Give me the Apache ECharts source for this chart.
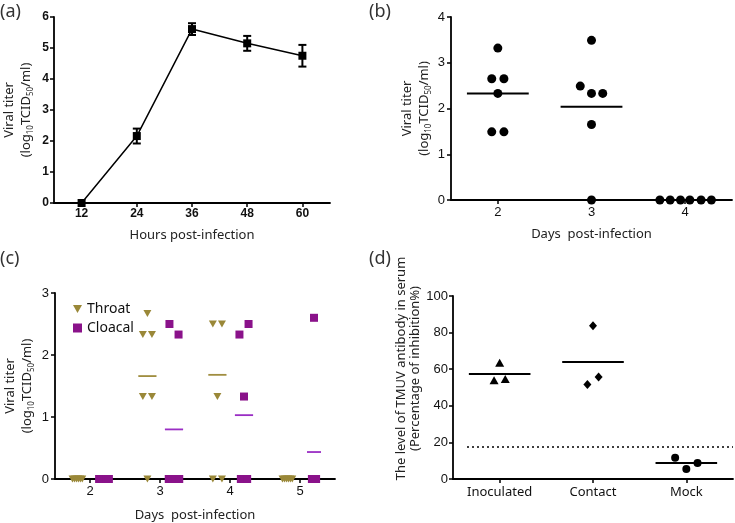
<!DOCTYPE html>
<html>
<head>
<meta charset="utf-8">
<script src="https://cdn.jsdelivr.net/npm/echarts@6/dist/echarts.min.js"></script>
<style>
  html, body { margin: 0; padding: 0; background: #fff; }
  #main { width: 735px; height: 523px; }
</style>
</head>
<body>
<div id="main"></div>
<script>
// (a) growth curve
const hoursA = [12, 24, 36, 48, 60];
const titerA = [0, 2.16, 5.61, 5.15, 4.75];
const errA = [0, 0.24, 0.19, 0.24, 0.35];

// (b) titers per bird
const daysB = [2, 3, 4];
const titersB = [
  [3.32, 2.65, 2.65, 2.33, 1.49, 1.49],
  [3.49, 2.49, 2.33, 2.33, 1.65, 0],
  [0, 0, 0, 0, 0, 0]
];
const jitterB = [
  [0, -0.065, 0.065, 0, -0.065, 0.065],
  [0, -0.12, 0, 0.12, 0, 0],
  [-0.27, -0.16, -0.05, 0.05, 0.17, 0.28]
];
const medianB = [2.33, 2.04];

// (c) throat / cloacal shedding
const daysC = [2, 3, 4, 5];
const throatC = [
  [0, 0, 0, 0, 0, 0],
  [2.67, 2.33, 2.33, 1.33, 1.33, 0],
  [2.5, 2.5, 1.33, 0, 0],
  [0, 0, 0, 0, 0, 0]
];
const cloacalC = [
  [0, 0, 0, 0, 0, 0],
  [2.5, 2.33, 0, 0, 0, 0],
  [2.33, 2.5, 1.33, 0, 0, 0],
  [2.6, 0, 0, 0, 0, 0]
];
const throatJitter = [
  [-0.07, -0.042, -0.014, 0.014, 0.042, 0.07],
  [0, -0.065, 0.065, -0.065, 0.065, 0],
  [-0.065, 0.065, 0, -0.065, 0.065],
  [-0.07, -0.042, -0.014, 0.014, 0.042, 0.07]
];
const cloacalJitter = [
  [-0.07, -0.042, -0.014, 0.014, 0.042, 0.07],
  [-0.065, 0.065, -0.075, -0.025, 0.025, 0.075],
  [-0.065, 0.065, 0, -0.045, 0, 0.045],
  [0, -0.03, -0.01, 0.01, 0.03, 0]
];
const throatMeanC = [0, 1.66, 1.68, 0];
const cloacalMeanC = [0, 0.80, 1.03, 0.435];
const throatShift = -0.18;
const cloacalShift = 0.2;

// (d) antibody
const groupsD = ['Inoculated', 'Contact', 'Mock'];
const inoculatedD = [63.5, 54, 54.6];
const contactD = [83.8, 51.7, 55.7];
const mockD = [11.6, 5.4, 8.7];
const jitterD = [[0, -0.06, 0.06], [0, -0.06, 0.06], [-0.12, 0, 0.12]];
const meanD = [57.4, 63.9, 8.7];
const cutoffD = 17.6;

const LABEL_FONT = 'Liberation Sans, Arial, sans-serif';
const NAME_FONT = 'Noto Sans, sans-serif';
const OLIVE = '#9a8838';
const PURPLE = '#8a128a';

const chart = echarts.init(document.getElementById('main'));

function axisBase(grid, extra) {
  return Object.assign({
    gridIndex: grid,
    type: 'value',
    splitLine: { show: false },
    axisLine: { show: true, onZero: false, lineStyle: { color: '#000', width: 1.8 } },
    axisTick: { show: true, length: 4, lineStyle: { color: '#000', width: 1.5 } },
    axisLabel: { color: '#111', fontSize: 12, fontFamily: LABEL_FONT, margin: 5 },
    nameTextStyle: { color: '#222', fontSize: 13, fontFamily: NAME_FONT }
  }, extra);
}

const titerName = 'Viral titer\n(log{s|10}TCID{s|50}/ml)';
const titerNameStyle = {
  color: '#222', fontSize: 13, fontFamily: NAME_FONT, lineHeight: 17,
  rich: { s: { fontSize: 8, fontFamily: NAME_FONT, color: '#222', verticalAlign: 'bottom', lineHeight: 17 } }
};

function scatterPoints(days, vals, jit, shift) {
  const out = [];
  days.forEach((d, i) => {
    vals[i].forEach((v, j) => out.push([d + shift + jit[i][j], v]));
  });
  return out;
}

function meanLine(color, width) {
  return function (params, api) {
    const x = api.value(0), v = api.value(1), hw = api.value(2);
    const a = api.coord([x - hw, v]);
    const b = api.coord([x + hw, v]);
    return { type: 'line', shape: { x1: a[0], y1: a[1], x2: b[0], y2: b[1] }, style: { stroke: color, lineWidth: width } };
  };
}

const downTri = 'path://M0,0 L10,0 L5,9 Z';

const option = {
  animation: false,
  backgroundColor: '#fff',
  graphic: [
    { type: 'text', left: 0, top: 3, style: { text: '(a)', fontSize: 18, fontFamily: NAME_FONT, fill: '#333' } },
    { type: 'text', left: 369, top: 3, style: { text: '(b)', fontSize: 18, fontFamily: NAME_FONT, fill: '#333' } },
    { type: 'text', left: 0, top: 250, style: { text: '(c)', fontSize: 18, fontFamily: NAME_FONT, fill: '#333' } },
    { type: 'text', left: 369, top: 250, style: { text: '(d)', fontSize: 18, fontFamily: NAME_FONT, fill: '#333' } }
  ],
  legend: {
    orient: 'vertical',
    left: 68, top: 297,
    itemWidth: 9, itemHeight: 9, itemGap: 5,
    textStyle: { fontSize: 14, fontFamily: NAME_FONT, color: '#111' },
    data: [
      { name: 'Throat', icon: downTri },
      { name: 'Cloacal', icon: 'rect' }
    ]
  },
  grid: [
    { left: 53, top: 17, width: 277, height: 186 },
    { left: 451, top: 17, width: 281, height: 183 },
    { left: 55, top: 293, width: 280, height: 188 },
    { left: 453, top: 296, width: 280, height: 183 }
  ],
  xAxis: [
    axisBase(0, {
      min: 6, max: 66,
      name: 'Hours post-infection', nameLocation: 'middle', nameGap: 26,
      axisTick: { show: true, length: 4, customValues: hoursA, lineStyle: { color: '#000', width: 1.5 } },
      axisLabel: { customValues: hoursA, color: '#111', fontSize: 12, fontWeight: 'bold', fontFamily: LABEL_FONT, margin: 5 }
    }),
    axisBase(1, {
      min: 1.5, max: 4.5,
      name: 'Days  post-infection', nameLocation: 'middle', nameGap: 28,
      axisTick: { show: true, length: 4, customValues: daysB, lineStyle: { color: '#000', width: 1.5 } },
      axisLabel: { customValues: daysB, color: '#111', fontSize: 13, fontFamily: LABEL_FONT, margin: 6 }
    }),
    axisBase(2, {
      min: 1.5, max: 5.5,
      name: 'Days  post-infection', nameLocation: 'middle', nameGap: 30,
      axisTick: { show: true, length: 4, customValues: daysC, lineStyle: { color: '#000', width: 1.5 } },
      axisLabel: { customValues: daysC, color: '#111', fontSize: 13, fontFamily: LABEL_FONT, margin: 6 }
    }),
    axisBase(3, {
      min: 0.5, max: 3.5,
      axisTick: { show: true, length: 4, customValues: [1, 2, 3], lineStyle: { color: '#000', width: 1.5 } },
      axisLabel: {
        customValues: [1, 2, 3], color: '#111', fontSize: 13, fontFamily: NAME_FONT, margin: 7,
        formatter: v => groupsD[Math.round(v) - 1]
      }
    })
  ],
  yAxis: [
    axisBase(0, {
      min: 0, max: 6, interval: 1,
      name: titerName, nameLocation: 'middle', nameGap: 19, nameTextStyle: titerNameStyle,
      axisLabel: { color: '#111', fontSize: 12, fontWeight: 'bold', fontFamily: LABEL_FONT, margin: 5 }
    }),
    axisBase(1, {
      min: 0, max: 4, interval: 1,
      name: titerName, nameLocation: 'middle', nameGap: 18, nameTextStyle: titerNameStyle,
      axisLabel: { color: '#111', fontSize: 13, fontFamily: LABEL_FONT, margin: 6 }
    }),
    axisBase(2, {
      min: 0, max: 3, interval: 1,
      name: titerName, nameLocation: 'middle', nameGap: 19, nameTextStyle: titerNameStyle,
      axisLabel: { color: '#111', fontSize: 13, fontFamily: LABEL_FONT, margin: 6 }
    }),
    axisBase(3, {
      min: 0, max: 100, interval: 20,
      name: 'The level of TMUV antibody in serum\n(Percentage of inhibition%)',
      nameLocation: 'middle', nameGap: 30,
      nameTextStyle: { color: '#222', fontSize: 13, fontFamily: NAME_FONT, lineHeight: 14, padding: [0, 0, 0, 38] },
      axisLabel: { color: '#111', fontSize: 13, fontFamily: LABEL_FONT, margin: 5 }
    })
  ],
  series: [
    {
      type: 'line', xAxisIndex: 0, yAxisIndex: 0,
      data: hoursA.map((h, i) => [h, titerA[i]]),
      symbol: 'rect', symbolSize: 8, showSymbol: true,
      lineStyle: { color: '#000', width: 1.5 },
      itemStyle: { color: '#000', opacity: 1 }, clip: false, z: 3
    },
    {
      type: 'custom', xAxisIndex: 0, yAxisIndex: 0,
      data: hoursA.map((h, i) => [h, titerA[i], errA[i]]),
      renderItem: function (params, api) {
        const x = api.value(0), y = api.value(1), e = api.value(2);
        if (!e) return null;
        const hi = api.coord([x, y + e]);
        const lo = api.coord([x, y - e]);
        const c = 4;
        const st = { stroke: '#000', lineWidth: 2 };
        return {
          type: 'group', children: [
            { type: 'line', shape: { x1: hi[0], y1: hi[1], x2: lo[0], y2: lo[1] }, style: st },
            { type: 'line', shape: { x1: hi[0] - c, y1: hi[1], x2: hi[0] + c, y2: hi[1] }, style: st },
            { type: 'line', shape: { x1: lo[0] - c, y1: lo[1], x2: lo[0] + c, y2: lo[1] }, style: st }
          ]
        };
      },
      clip: false, z: 4
    },
    {
      type: 'scatter', xAxisIndex: 1, yAxisIndex: 1,
      data: scatterPoints(daysB, titersB, jitterB, 0),
      symbol: 'circle', symbolSize: 9, itemStyle: { color: '#000', opacity: 1 }, clip: false
    },
    {
      type: 'custom', xAxisIndex: 1, yAxisIndex: 1,
      data: medianB.map((m, i) => [daysB[i], m, 0.33]),
      renderItem: meanLine('#000', 2)
    },
    {
      name: 'Throat', type: 'scatter', xAxisIndex: 2, yAxisIndex: 2,
      data: scatterPoints(daysC, throatC, throatJitter, throatShift),
      symbol: downTri, symbolSize: [8, 7], itemStyle: { color: OLIVE, opacity: 1 }, clip: false
    },
    {
      name: 'Cloacal', type: 'scatter', xAxisIndex: 2, yAxisIndex: 2,
      data: scatterPoints(daysC, cloacalC, cloacalJitter, cloacalShift),
      symbol: 'rect', symbolSize: 8, itemStyle: { color: PURPLE, opacity: 1 }, clip: false
    },
    {
      type: 'custom', xAxisIndex: 2, yAxisIndex: 2,
      data: daysC.map((d, i) => [d + throatShift, throatMeanC[i], 0.13]).filter(p => p[1] > 0),
      renderItem: meanLine('#a08e40', 1.8)
    },
    {
      type: 'custom', xAxisIndex: 2, yAxisIndex: 2,
      data: daysC.map((d, i) => [d + cloacalShift, cloacalMeanC[i], i === 3 ? 0.1 : 0.13]).filter(p => p[1] > 0),
      renderItem: meanLine('#9a2ec4', 1.8)
    },
    {
      type: 'scatter', xAxisIndex: 3, yAxisIndex: 3,
      data: inoculatedD.map((v, j) => [1 + jitterD[0][j], v]),
      symbol: 'triangle', symbolSize: [9, 8], itemStyle: { color: '#000', opacity: 1 }, clip: false
    },
    {
      type: 'scatter', xAxisIndex: 3, yAxisIndex: 3,
      data: contactD.map((v, j) => [2 + jitterD[1][j], v]),
      symbol: 'diamond', symbolSize: [8, 9], itemStyle: { color: '#000', opacity: 1 }, clip: false
    },
    {
      type: 'scatter', xAxisIndex: 3, yAxisIndex: 3,
      data: mockD.map((v, j) => [3 + jitterD[2][j], v]),
      symbol: 'circle', symbolSize: 8, itemStyle: { color: '#000', opacity: 1 }, clip: false,
      markLine: {
        silent: true, symbol: 'none', label: { show: false },
        lineStyle: { color: '#000', width: 1.5, type: [2, 3] },
        data: [[{ coord: [0.65, cutoffD] }, { coord: [3.5, cutoffD] }]]
      }
    },
    {
      type: 'custom', xAxisIndex: 3, yAxisIndex: 3,
      data: meanD.map((m, i) => [i + 1, m, 0.33]),
      renderItem: meanLine('#000', 2)
    }
  ]
};

chart.setOption(option);
</script>
</body>
</html>
